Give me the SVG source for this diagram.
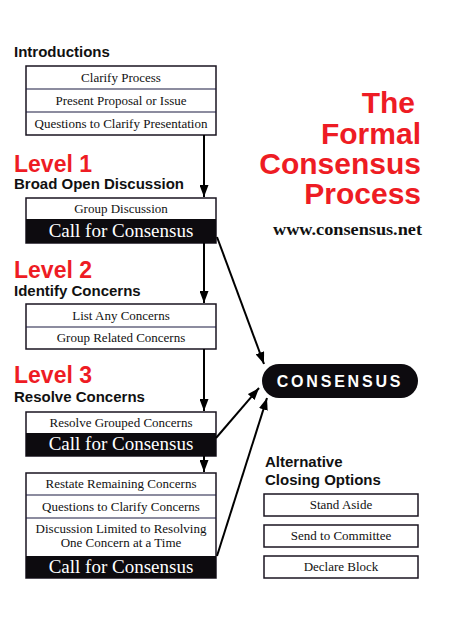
<svg xmlns="http://www.w3.org/2000/svg" width="451" height="617" viewBox="0 0 451 617">
<defs>
<style>
.h{font-family:"Liberation Sans",Arial,sans-serif;font-weight:bold;font-size:15px;fill:#111}
.lv{font-family:"Liberation Sans",Arial,sans-serif;font-weight:bold;font-size:23px;fill:#ee1c24}
.tt{font-family:"Liberation Sans",Arial,sans-serif;font-weight:bold;font-size:30px;fill:#ee1c24;text-anchor:end}
.r{font-family:"Liberation Serif","Times New Roman",serif;font-size:13px;fill:#111;text-anchor:middle}
.c{font-family:"Liberation Serif","Times New Roman",serif;font-size:19px;fill:#fff;text-anchor:middle}
.box{fill:#fff;stroke:#1a1420;stroke-width:1.5}
.div{stroke:#1a1a40;stroke-width:1.2}
.blk{fill:#0d0b0f}
.con{stroke:#000;stroke-width:2;fill:none;marker-end:url(#ah)}
</style>
<marker id="ah" markerUnits="userSpaceOnUse" markerWidth="12" markerHeight="9" refX="12" refY="4.5" orient="auto">
<path d="M0,0 L12,4.5 L0,9 Z" fill="#000"/>
</marker>
</defs>
<rect width="451" height="617" fill="#fff"/>

<g id="title">
<text class="tt" x="415" y="113">The</text>
<text class="tt" x="421" y="144">Formal</text>
<text class="tt" x="421" y="174">Consensus</text>
<text class="tt" x="421" y="204">Process</text>
<text x="422" y="235" text-anchor="end" font-family="Liberation Serif,'Times New Roman',serif" font-weight="bold" font-size="17" textLength="149" lengthAdjust="spacingAndGlyphs" fill="#111">www.consensus.net</text>
</g>

<g id="introductions">
<text class="h" x="14" y="57">Introductions</text>
<rect class="box" x="26" y="66" width="190" height="69"/>
<line class="div" x1="26" y1="89" x2="216" y2="89"/>
<line class="div" x1="26" y1="112" x2="216" y2="112"/>
<text class="r" x="121" y="82">Clarify Process</text>
<text class="r" x="121" y="105">Present Proposal or Issue</text>
<text class="r" x="121" y="128">Questions to Clarify Presentation</text>
</g>

<g id="level1">
<text class="lv" x="14" y="172">Level 1</text>
<text class="h" x="14" y="189">Broad Open Discussion</text>
<rect class="box" x="26" y="198" width="190" height="45"/>
<rect class="blk" x="26" y="219" width="190" height="24"/>
<text class="r" x="121" y="213">Group Discussion</text>
<text class="c" x="121" y="237">Call for Consensus</text>
</g>

<g id="level2">
<text class="lv" x="14" y="278">Level 2</text>
<text class="h" x="14" y="296">Identify Concerns</text>
<rect class="box" x="26" y="304" width="190" height="45"/>
<line class="div" x1="26" y1="327" x2="216" y2="327"/>
<text class="r" x="121" y="320">List Any Concerns</text>
<text class="r" x="121" y="342">Group Related Concerns</text>
</g>

<g id="level3">
<text class="lv" x="14" y="383">Level 3</text>
<text class="h" x="14" y="402">Resolve Concerns</text>
<rect class="box" x="26" y="412" width="190" height="44"/>
<rect class="blk" x="26" y="433" width="190" height="23"/>
<text class="r" x="121" y="427">Resolve Grouped Concerns</text>
<text class="c" x="121" y="450">Call for Consensus</text>
</g>

<g id="level3b">
<rect class="box" x="26" y="473" width="190" height="105"/>
<line class="div" x1="26" y1="495" x2="216" y2="495"/>
<line class="div" x1="26" y1="518" x2="216" y2="518"/>
<rect class="blk" x="26" y="556" width="190" height="22"/>
<text class="r" x="121" y="488">Restate Remaining Concerns</text>
<text class="r" x="121" y="511">Questions to Clarify Concerns</text>
<text class="r" x="121" y="533">Discussion Limited to Resolving</text>
<text class="r" x="121" y="547">One Concern at a Time</text>
<text class="c" x="121" y="573">Call for Consensus</text>
</g>

<g id="consensus">
<rect x="262" y="364" width="156" height="34" rx="17" fill="#0d0b0f"/>
<text x="340" y="387" text-anchor="middle" font-family="Liberation Sans,Arial,sans-serif" font-weight="bold" font-size="16" letter-spacing="2.8" fill="#fff">CONSENSUS</text>
</g>

<g id="alternatives">
<text class="h" x="265" y="467">Alternative</text>
<text class="h" x="265" y="485">Closing Options</text>
<rect class="box" x="264" y="494" width="154" height="22"/>
<rect class="box" x="264" y="525" width="154" height="22"/>
<rect class="box" x="264" y="556" width="154" height="22"/>
<text class="r" x="341" y="509">Stand Aside</text>
<text class="r" x="341" y="540">Send to Committee</text>
<text class="r" x="341" y="571">Declare Block</text>
</g>

<g id="connectors">
<line class="con" x1="204" y1="135" x2="204" y2="197"/>
<line class="con" x1="204" y1="243" x2="204" y2="303"/>
<line class="con" x1="204" y1="349" x2="204" y2="411"/>
<line class="con" x1="204" y1="456" x2="204" y2="472"/>
<line class="con" x1="217" y1="237" x2="264" y2="364"/>
<line class="con" x1="216" y1="438" x2="259" y2="388"/>
<line class="con" x1="217" y1="556" x2="267" y2="398"/>
</g>
</svg>
